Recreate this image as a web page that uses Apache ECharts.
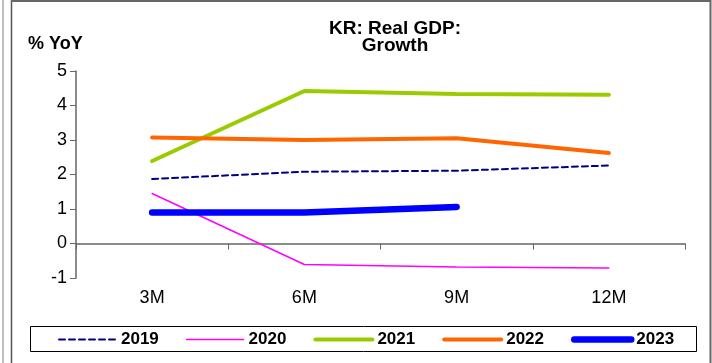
<!DOCTYPE html>
<html><head><meta charset="utf-8">
<script src="https://cdn.jsdelivr.net/npm/echarts@6/dist/echarts.min.js"></script>
<style>html,body{margin:0;padding:0;background:#fff}#c{width:712px;height:363px}</style>
</head><body><div id="c"></div>
<script>
var categories = ['3M', '6M', '9M', '12M'];
var yTicks = [-1, 0, 1, 2, 3, 4, 5];
var s2019 = [1.87, 2.08, 2.11, 2.26];
var s2020 = [1.45, -0.61, -0.68, -0.71];
var s2021 = [2.39, 4.42, 4.33, 4.31];
var s2022 = [3.07, 3.00, 3.05, 2.62];
var s2023 = [0.90, 0.90, 1.06];
var seriesNames = ['2019', '2020', '2021', '2022', '2023'];

var F = 'Liberation Sans, Arial, sans-serif';
var styles = {
  '2019': {color: '#000080', width: 2, type: [6, 4]},
  '2020': {color: '#FF00FF', width: 1.5, type: 'solid'},
  '2021': {color: '#99CC00', width: 4, type: 'solid'},
  '2022': {color: '#FF6600', width: 4, type: 'solid'},
  '2023': {color: '#0000FF', width: 6.5, type: 'solid'}
};
var chart = echarts.init(document.getElementById('c'), null, {renderer: 'canvas'});
function mk(name, data) {
  var s = styles[name];
  return {name: name, type: 'line', data: data, symbol: 'none', showSymbol: false,
    xAxisIndex: 0, yAxisIndex: 0, animation: false,
    lineStyle: {color: s.color, width: s.width, type: s.type, cap: 'round'},
    itemStyle: {color: s.color}};
}
chart.setOption({
  animation: false,
  backgroundColor: '#fff',
  title: {text: 'KR: Real GDP:\nGrowth', left: 390, top: 15, textAlign: 'center',
    textStyle: {fontFamily: F, fontSize: 19, fontWeight: 'bold', color: '#000', lineHeight: 17}},
  graphic: [
    {type: 'line', shape: {x1: 3, y1: 0, x2: 3, y2: 363}, style: {stroke: '#bdbdbd', lineWidth: 2}},
    {type: 'line', shape: {x1: 11.5, y1: 0, x2: 11.5, y2: 363}, style: {stroke: '#555', lineWidth: 1.5}},
    {type: 'line', shape: {x1: 11, y1: 1, x2: 711, y2: 1}, style: {stroke: '#666', lineWidth: 2}},
    {type: 'line', shape: {x1: 710.5, y1: 0, x2: 710.5, y2: 363}, style: {stroke: '#666', lineWidth: 2}},
    {type: 'text', left: 28, top: 35, style: {text: '% YoY', font: 'bold 18px ' + F, fill: '#000'}},
    {type: 'rect', shape: {x: 30.5, y: 326.5, width: 666, height: 25}, style: {fill: 'none', stroke: '#000', lineWidth: 1}}
  ],
  legend: {
    data: seriesNames.map(function (n) {
      var s = styles[n];
      return {name: n, lineStyle: {color: s.color, width: s.width, type: s.type, cap: 'round'}};
    }),
    left: 58, top: 331, itemWidth: 57, itemHeight: 12, itemGap: 27, padding: 0,
    itemStyle: {opacity: 0},
    textStyle: {fontFamily: F, fontSize: 17, fontWeight: 'bold', color: '#000'}},
  grid: {left: 76, right: 27, top: 71, bottom: 85},
  xAxis: [
    {type: 'category', data: categories, boundaryGap: true, position: 'bottom',
      axisLine: {onZero: true, lineStyle: {color: '#666', width: 1.5}},
      axisTick: {show: true, length: 6, lineStyle: {color: '#666'}},
      axisLabel: {show: false}, splitLine: {show: false}},
    {type: 'category', data: categories, boundaryGap: true, position: 'bottom',
      axisLine: {show: false}, axisTick: {show: false},
      axisLabel: {show: true, margin: 11, fontFamily: F, fontSize: 18, color: '#000'}}
  ],
  yAxis: {type: 'value', min: yTicks[0], max: yTicks[yTicks.length - 1], interval: 1,
    axisLine: {show: true, lineStyle: {color: '#666', width: 1.5}},
    axisTick: {show: true, inside: false, length: 6, lineStyle: {color: '#666'}},
    axisLabel: {margin: 9, fontFamily: F, fontSize: 18, color: '#000'},
    splitLine: {show: false}},
  series: [
    mk('2019', s2019),
    mk('2020', s2020),
    mk('2021', s2021),
    mk('2022', s2022),
    mk('2023', s2023)
  ]
});
</script></body></html>
